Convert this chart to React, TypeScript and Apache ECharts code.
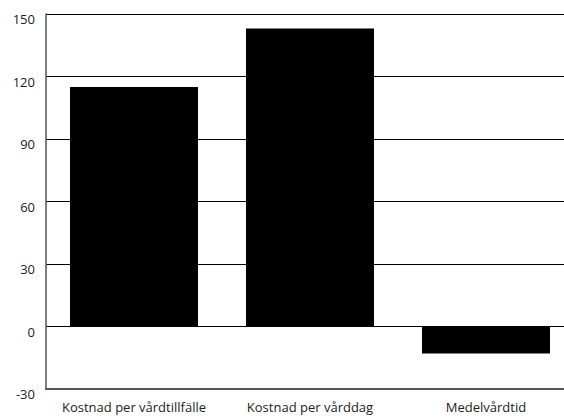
import React, { useEffect, useRef } from "react";
import * as echarts from "echarts";

const categories = ["Kostnad per vårdtillfälle", "Kostnad per vårddag", "Medelvårdtid"];
const values = [115, 143, -13];
const yMin = -30;
const yMax = 150;
const yStep = 30;

export default function App() {
  const ref = useRef<HTMLDivElement>(null);
  useEffect(() => {
    if (!ref.current) return;
    const chart = echarts.init(ref.current, undefined, { renderer: "svg" });
    chart.setOption({
      animation: false,
      backgroundColor: "#ffffff",
      grid: { left: 46, width: 528, top: 14, bottom: 30, containLabel: false, outerBoundsMode: "none" },
      xAxis: {
        type: "category",
        data: categories,
        axisLine: { onZero: false, lineStyle: { color: "#555555", width: 2 } },
        axisTick: { show: false },
        axisLabel: { color: "#222222", fontFamily: "Open Sans", fontSize: 13, margin: 11, interval: 0 },
      },
      yAxis: {
        type: "value",
        min: yMin,
        max: yMax,
        interval: yStep,
        axisLine: { show: true, lineStyle: { color: "#555555", width: 1.5 } },
        axisTick: { show: false },
        axisLabel: {
          color: "#222222",
          fontFamily: "Open Sans",
          fontSize: 13,
          margin: 11,
          verticalAlign: "top",
          lineHeight: 10,
        },
        splitLine: { show: true, lineStyle: { color: "#000000", width: 1 } },
      },
      series: [
        {
          type: "bar",
          data: values,
          barWidth: 128,
          itemStyle: { color: "#000000" },
        },
      ],
    });
    return () => chart.dispose();
  }, []);
  return <div ref={ref} style={{ width: 564, height: 419, position: "absolute", left: 0, top: 0 }} />;
}
